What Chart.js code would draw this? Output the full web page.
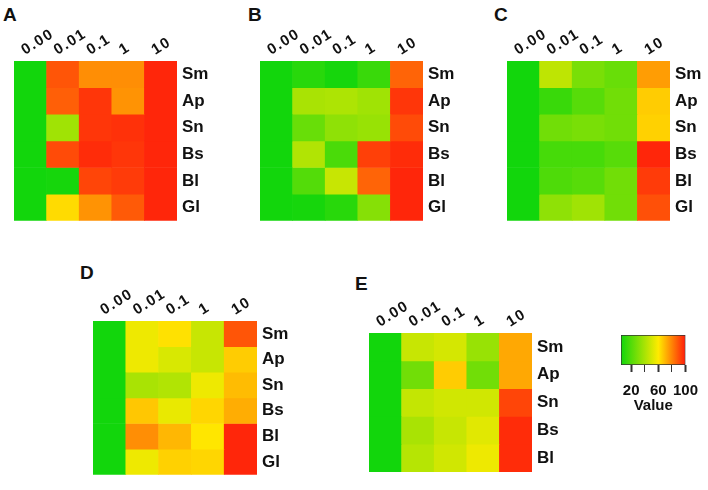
<!DOCTYPE html>
<html>
<head>
<meta charset="utf-8">
<script src="https://cdn.jsdelivr.net/npm/chart.js@4.4.0/dist/chart.umd.min.js"></script>
<style>
  body { margin: 0; background: #fff; }
  #wrap { position: relative; width: 708px; height: 490px; overflow: hidden;
          font-family: "Liberation Sans", Arial, sans-serif; }
  canvas { position: absolute; }
  .tag { position: absolute; font-weight: bold; font-size: 19px; line-height: 1; color: #111; }
</style>
</head>
<body>
<div id="wrap">
  <div class="tag" style="left:3px;top:5px">A</div>
  <div class="tag" style="left:248px;top:5px">B</div>
  <div class="tag" style="left:494px;top:5px">C</div>
  <div class="tag" style="left:80px;top:263px">D</div>
  <div class="tag" style="left:355px;top:274px">E</div>
  <canvas id="hmA"></canvas>
  <canvas id="hmB"></canvas>
  <canvas id="hmC"></canvas>
  <canvas id="hmD"></canvas>
  <canvas id="hmE"></canvas>
  <canvas id="scale"></canvas>
</div>
<script>
// concentrations (columns) and sample rows
const concLabels = ['0.00', '0.01', '0.1', '1', '10'];
const rowsSix = ['Sm', 'Ap', 'Sn', 'Bs', 'Bl', 'Gl'];
const rowsFive = ['Sm', 'Ap', 'Sn', 'Bs', 'Bl'];

// cell values, one row per sample, one entry per concentration
const valuesA = [
  [5, 89, 78, 78, 98],
  [5, 87, 95, 77, 98],
  [5, 38, 95, 96, 98],
  [5, 91, 97, 95, 98],
  [5, 6, 92, 94, 98],
  [5, 63, 77, 88, 98],
];
const valuesB = [
  [5, 10, 6, 14, 86],
  [5, 40, 41, 38, 95],
  [5, 25, 34, 36, 91],
  [5, 42, 18, 93, 97],
  [5, 20, 47, 86, 98],
  [5, 6, 10, 32, 98],
];
const valuesC = [
  [5, 45, 29, 25, 75],
  [5, 14, 21, 27, 66],
  [5, 27, 29, 27, 65],
  [5, 17, 17, 21, 98],
  [5, 19, 21, 27, 94],
  [5, 34, 38, 27, 90],
];
const valuesD = [
  [5, 56, 62, 47, 89],
  [5, 56, 51, 47, 66],
  [5, 40, 42, 56, 69],
  [5, 67, 55, 64, 72],
  [5, 78, 70, 61, 98],
  [5, 56, 65, 64, 98],
];
const valuesE = [
  [5, 47, 50, 36, 73],
  [5, 27, 66, 27, 73],
  [5, 46, 49, 49, 92],
  [5, 40, 47, 53, 97],
  [5, 43, 49, 56, 97],
];

// colour key
const legendMin = 5;
const legendMax = 100;
const legendTicks = [20, 40, 60, 80, 100];
const legendLabels = [20, 60, 100];

const colorStops = [
  [5, [18, 214, 12]],
  [60, [255, 235, 0]],
  [100, [255, 28, 10]],
];

function colorFor(v) {
  for (let i = 1; i < colorStops.length; i++) {
    const [v0, c0] = colorStops[i - 1];
    const [v1, c1] = colorStops[i];
    if (v <= v1 || i === colorStops.length - 1) {
      const t = Math.max(0, Math.min(1, (v - v0) / (v1 - v0)));
      const c = c0.map((a, k) => Math.round(a + (c1[k] - a) * t));
      return 'rgb(' + c.join(',') + ')';
    }
  }
}

const textColor = '#111';
const boldFont = (size) => ({ family: '"Liberation Sans", Arial, sans-serif', size: size, weight: 'bold' });

function place(canvas, box) {
  canvas.width = box[2];
  canvas.height = box[3];
  canvas.style.left = box[0] + 'px';
  canvas.style.top = box[1] + 'px';
}

// the column labels in the original are widely spaced
function spaceLabels(s) {
  if (s._spaced) return;
  const orig = s.drawLabels;
  s.drawLabels = function (area) {
    const c = this.ctx;
    c.save();
    c.letterSpacing = '1.5px';
    orig.call(this, area);
    c.restore();
  };
  s._spaced = true;
}

// box: canvas [left, top, width, height]; area: plot [left, top, right, bottom] in page px
function heatmap(id, rows, values, box, area) {
  const canvas = document.getElementById(id);
  place(canvas, box);
  const topH = area[1] - box[1];
  const rightW = box[0] + box[2] - area[2];

  const datasets = rows.map((row, i) => ({
    label: row,
    data: concLabels.map(() => 1),
    cellValues: values[i],
    backgroundColor: values[i].map(colorFor),
    borderWidth: 0,
    barPercentage: 1,
    categoryPercentage: 1,
  }));

  return new Chart(canvas, {
    type: 'bar',
    data: { labels: concLabels, datasets: datasets },
    options: {
      responsive: false,
      animation: false,
      layout: {
        padding: { left: area[0] - box[0], right: 0, top: 0, bottom: box[1] + box[3] - area[3] },
      },
      plugins: {
        legend: { display: false },
        tooltip: {
          callbacks: {
            label: (c) => c.dataset.label + ': ' + c.dataset.cellValues[c.dataIndex],
          },
        },
      },
      scales: {
        x: {
          type: 'category',
          position: 'top',
          stacked: true,
          grid: { display: false, drawTicks: false },
          border: { display: false },
          ticks: {
            color: textColor,
            font: boldFont(15),
            minRotation: 32,
            maxRotation: 32,
            padding: 2,
            labelOffset: 2,
            autoSkip: false,
          },
          afterFit: (s) => { s.height = topH; },
          afterUpdate: spaceLabels,
        },
        y: {
          type: 'linear',
          stacked: true,
          reverse: true,
          min: 0,
          max: rows.length,
          display: false,
        },
        rows: {
          type: 'category',
          labels: rows,
          position: 'right',
          offset: true,
          grid: { display: false, drawTicks: false },
          border: { display: false },
          ticks: { color: textColor, font: boldFont(17), padding: 5 },
          afterFit: (s) => { s.width = rightW; },
        },
      },
    },
  });
}

heatmap('hmA', rowsSix, valuesA, [0, 0, 236, 236], [14, 61, 177, 227]);
heatmap('hmB', rowsSix, valuesB, [236, 0, 236, 236], [260, 61, 423, 227]);
heatmap('hmC', rowsSix, valuesC, [472, 0, 236, 236], [507, 61, 670, 227]);
heatmap('hmD', rowsSix, valuesD, [0, 250, 330, 240], [93, 321, 257, 487]);
heatmap('hmE', rowsFive, valuesE, [330, 250, 270, 240], [369, 333, 532, 472]);

// colour key as a single floating bar filled with the same ramp
const keyCanvas = document.getElementById('scale');
place(keyCanvas, [600, 320, 108, 100]);
new Chart(keyCanvas, {
  type: 'bar',
  data: {
    labels: ['Value'],
    datasets: [{
      data: [[legendMin, legendMax]],
      backgroundColor: (c) => {
        const chart = c.chart;
        if (!chart.chartArea) return null;
        const xs = chart.scales.x;
        const g = chart.ctx.createLinearGradient(xs.getPixelForValue(legendMin), 0, xs.getPixelForValue(legendMax), 0);
        colorStops.forEach(([v, col]) => {
          g.addColorStop((v - legendMin) / (legendMax - legendMin), 'rgb(' + col.join(',') + ')');
        });
        return g;
      },
      borderColor: '#333',
      borderWidth: 1,
      borderSkipped: false,
      barPercentage: 1,
      categoryPercentage: 1,
    }],
  },
  options: {
    indexAxis: 'y',
    responsive: false,
    animation: false,
    layout: { padding: { left: 21, right: 18, top: 15, bottom: 0 } },
    plugins: { legend: { display: false }, tooltip: { enabled: false } },
    scales: {
      x: {
        type: 'linear',
        min: legendMin,
        max: legendMax,
        position: 'bottom',
        afterBuildTicks: (s) => { s.ticks = legendTicks.map((v) => ({ value: v })); },
        grid: {
          drawOnChartArea: false,
          tickLength: 7,
          tickColor: '#333',
          tickWidth: (c) => (legendLabels.includes(c.tick && c.tick.value) ? 2 : 1),
        },
        border: { display: false },
        ticks: {
          color: textColor,
          font: boldFont(15),
          padding: 10,
          maxRotation: 0,
          autoSkip: false,
          callback: (v) => (legendLabels.includes(v) ? v : ''),
        },
        title: {
          display: true,
          text: 'Value',
          color: textColor,
          font: boldFont(15),
          padding: { top: 0, bottom: 5 },
        },
        afterFit: (s) => { s.height = 55; },
      },
      y: { display: false },
    },
  },
});
</script>
</body>
</html>
